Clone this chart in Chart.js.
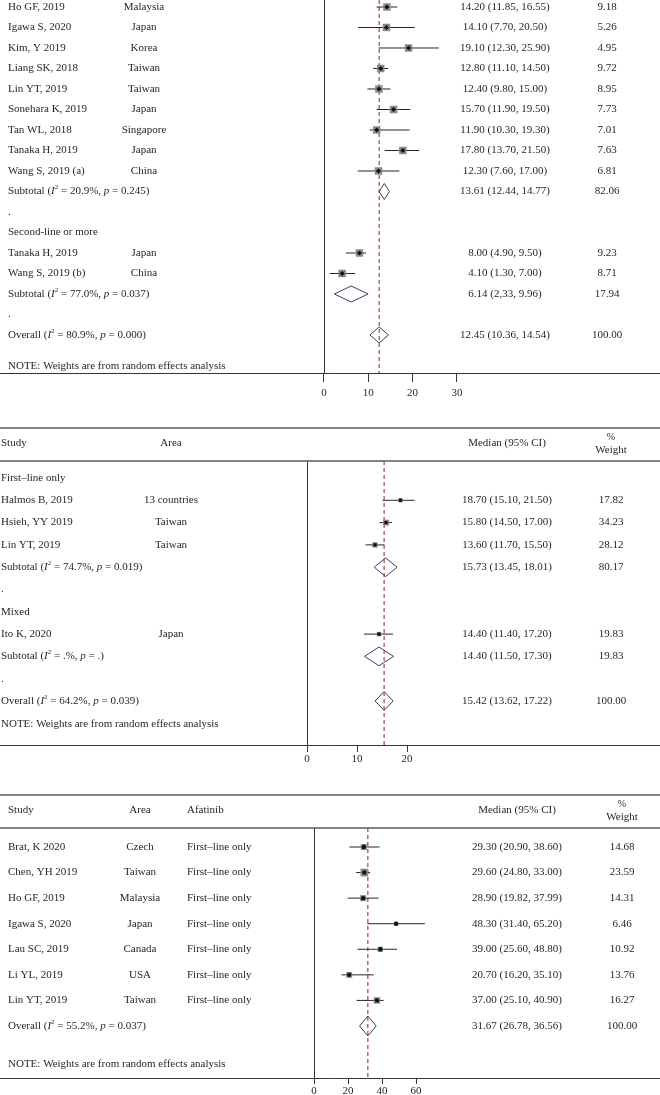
<!DOCTYPE html>
<html><head><meta charset="utf-8">
<script src="https://cdn.jsdelivr.net/npm/chart.js@4.4.1/dist/chart.umd.min.js"></script>
<style>
html,body{margin:0;padding:0;background:#fff;}
body{width:660px;height:1095px;position:relative;overflow:hidden;}
canvas{position:absolute;left:0;}
</style></head><body>
<canvas id="c1" width="660" height="405" style="top:0px"></canvas>
<canvas id="c2" width="660" height="365" style="top:405px"></canvas>
<canvas id="c3" width="660" height="330" style="top:770px"></canvas>
<script>
// ---------- Panel 1 data ----------
const p1Study = ["Ho GF, 2019","Igawa S, 2020","Kim, Y 2019","Liang SK, 2018","Lin YT, 2019","Sonehara K, 2019","Tan WL, 2018","Tanaka H, 2019","Wang S, 2019 (a)","Subtotal (I² = 20.9%, p = 0.245)",".","Second-line or more","Tanaka H, 2019","Wang S, 2019 (b)","Subtotal (I² = 77.0%, p = 0.037)",".","Overall (I² = 80.9%, p = 0.000)"];
const p1Area = ["Malaysia","Japan","Korea","Taiwan","Taiwan","Japan","Singapore","Japan","China","","","","Japan","China","","",""];
const p1Kind = ["s","s","s","s","s","s","s","s","s","d","","","s","s","d","","o"];
const p1Est = [14.20,14.10,19.10,12.80,12.40,15.70,11.90,17.80,12.30,13.61,null,null,8.00,4.10,6.14,null,12.45];
const p1Lo  = [11.85,7.70,12.30,11.10,9.80,11.90,10.30,13.70,7.60,12.44,null,null,4.90,1.30,2.33,null,10.36];
const p1Hi  = [16.55,20.50,25.90,14.50,15.00,19.50,19.30,21.50,17.00,14.77,null,null,9.50,7.00,9.96,null,14.54];
const p1Weight = [9.18,5.26,4.95,9.72,8.95,7.73,7.01,7.63,6.81,82.06,null,null,9.23,8.71,17.94,null,100.00];
const p1CiOverride = {14: "6.14 (2,33, 9.96)"};
const p1Ticks = [0,10,20,30];

// ---------- Panel 2 data ----------
const p2Study = ["First–line only","Halmos B, 2019","Hsieh, YY 2019","Lin YT, 2019","Subtotal (I² = 74.7%, p = 0.019)",".","Mixed","Ito K, 2020","Subtotal (I² = .%, p = .)",".","Overall (I² = 64.2%, p = 0.039)"];
const p2Area = ["","13 countries","Taiwan","Taiwan","","","","Japan","","",""];
const p2Kind = ["","s","s","s","d","","","s","d","","o"];
const p2Est = [null,18.70,15.80,13.60,15.73,null,null,14.40,14.40,null,15.42];
const p2Lo  = [null,15.10,14.50,11.70,13.45,null,null,11.40,11.50,null,13.62];
const p2Hi  = [null,21.50,17.00,15.50,18.01,null,null,17.20,17.30,null,17.22];
const p2Weight = [null,17.82,34.23,28.12,80.17,null,null,19.83,19.83,null,100.00];
const p2Ticks = [0,10,20];

// ---------- Panel 3 data ----------
const p3Study = ["Brat, K 2020","Chen, YH 2019","Ho GF, 2019","Igawa S, 2020","Lau SC, 2019","Li YL, 2019","Lin YT, 2019","Overall (I² = 55.2%, p = 0.037)"];
const p3Area = ["Czech","Taiwan","Malaysia","Japan","Canada","USA","Taiwan",""];
const p3Line = ["First–line only","First–line only","First–line only","First–line only","First–line only","First–line only","First–line only",""];
const p3Kind = ["s","s","s","s","s","s","s","o"];
const p3Est = [29.30,29.60,28.90,48.30,39.00,20.70,37.00,31.67];
const p3Lo  = [20.90,24.80,19.82,31.40,25.60,16.20,25.10,26.78];
const p3Hi  = [38.60,33.00,37.99,65.20,48.80,35.10,40.90,36.56];
const p3Weight = [14.68,23.59,14.31,6.46,10.92,13.76,16.27,100.00];
const p3Ticks = [0,20,40,60];

const noteText = "NOTE: Weights are from random effects analysis";

// ---------- helpers ----------
const TXT = '#231f20';
const FONT = '"Liberation Serif", "Times New Roman", serif';
function drawRich(ctx, text, x, y, align, size) {
  const parts = text.split(/(I²|\bp(?= =))/).filter(s => s !== '');
  const segs = [];
  parts.forEach(p => {
    if (p === 'I²') { segs.push({t:'I', it:true}); segs.push({t:'2', sup:true}); }
    else if (p === 'p') segs.push({t:'p', it:true});
    else segs.push({t:p});
  });
  const fontOf = s => (s.it ? 'italic ' : '') + (s.sup ? Math.round(size*0.62) : size) + 'px ' + FONT;
  let total = 0;
  segs.forEach(s => { ctx.font = fontOf(s); s.w = ctx.measureText(s.t).width; total += s.w; });
  let cx = align === 'center' ? x - total/2 : (align === 'right' ? x - total : x);
  ctx.textAlign = 'left'; ctx.textBaseline = 'middle'; ctx.fillStyle = TXT;
  segs.forEach(s => { ctx.font = fontOf(s); ctx.fillText(s.t, cx, s.sup ? y - size*0.36 : y); cx += s.w; });
}
function fmtCI(e,l,h){ return e.toFixed(2) + ' (' + l.toFixed(2) + ', ' + h.toFixed(2) + ')'; }

function buildPanel(id, D, L) {
  const n = D.study.length;
  const ovIdx = D.kind.indexOf('o');
  const ov = D.est[ovIdx];
  const datasets = [];
  datasets.push({data:[{x:ov,y:L.yMin},{x:ov,y:L.yMax}], showLine:true, pointRadius:0,
    borderColor:'#8b2323', borderDash:[4,3], borderWidth:1, order:10});
  const studies = [];
  for (let i=0;i<n;i++){
    if (D.kind[i]==='s') {
      studies.push({x:D.est[i], y:i, w:D.weight[i]});
      datasets.push({data:[{x:D.lo[i],y:i},{x:D.hi[i],y:i}], showLine:true, pointRadius:0,
        borderColor:'#262626', borderWidth:1, order:5});
    } else if (D.kind[i]==='d' || D.kind[i]==='o') {
      const h = L.diamondH;
      datasets.push({data:[{x:D.lo[i],y:i},{x:D.est[i],y:i-h},{x:D.hi[i],y:i},{x:D.est[i],y:i+h},{x:D.lo[i],y:i}],
        showLine:true, pointRadius:0, borderColor:'#3b3b6d', borderWidth:1, fill:false, order:1});
    }
  }
  datasets.push({data:studies, pointStyle:'rect', pointRadius:c => L.boxR(c.raw ? c.raw.w : 0),
    backgroundColor:'#8a8a8a', borderWidth:0, order:3});
  datasets.push({data:studies, pointStyle:L.dotStyle, pointRadius:L.dotR,
    backgroundColor:'#111', borderWidth:0, order:2});

  const textPlugin = {
    id:'forestText'+id,
    beforeDatasetsDraw(chart){
      const ctx = chart.ctx, a = chart.chartArea, xs = chart.scales.x;
      ctx.save();
      ctx.strokeStyle = '#333'; ctx.lineWidth = 1;
      const x0 = Math.round(xs.getPixelForValue(0)) + 0.5;
      ctx.beginPath(); ctx.moveTo(x0, a.top); ctx.lineTo(x0, a.bottom); ctx.stroke();
      ctx.restore();
    },
    afterDraw(chart){
      const ctx = chart.ctx, a = chart.chartArea, ys = chart.scales.y;
      ctx.save();
      if (L.header) {
        ctx.strokeStyle = '#5a5a5a'; ctx.lineWidth = 1.5;
        [a.top - 33, a.top].forEach(yy => { ctx.beginPath(); ctx.moveTo(0, yy); ctx.lineTo(chart.width, yy); ctx.stroke(); });
        const hy = a.top - 17.5;
        drawRich(ctx, 'Study', L.studyX, hy, 'left', 11);
        drawRich(ctx, 'Area', L.areaX, hy, 'center', 11);
        if (L.extraX != null) drawRich(ctx, 'Afatinib', L.extraX, hy, 'left', 11);
        drawRich(ctx, 'Median (95% CI)', L.ciX, hy, 'center', 11);
        drawRich(ctx, '%', L.wX, a.top - 24, 'center', 10);
        drawRich(ctx, 'Weight', L.wX, a.top - 11, 'center', 11);
      }
      for (let i=0;i<n;i++){
        const y = ys.getPixelForValue(i);
        drawRich(ctx, D.study[i], L.studyX, y, 'left', 11);
        if (D.area[i]) drawRich(ctx, D.area[i], L.areaX, y, 'center', 11);
        if (D.extra && D.extra[i]) drawRich(ctx, D.extra[i], L.extraX, y, 'left', 11);
        if (D.est[i] != null) {
          const t = (D.ciOverride && D.ciOverride[i]) || fmtCI(D.est[i], D.lo[i], D.hi[i]);
          drawRich(ctx, t, L.ciX, y, 'center', 11);
          drawRich(ctx, D.weight[i].toFixed(2), L.wX, y, 'center', 11);
        }
      }
      drawRich(ctx, noteText, L.studyX, ys.getPixelForValue(L.noteRow), 'left', 11);
      ctx.restore();
    }
  };

  return new Chart(document.getElementById(id), {
    type:'scatter',
    data:{datasets},
    options:{
      responsive:false, animation:false, events:[],
      layout:{autoPadding:false, padding:{top:L.padTop, left:0, right:0, bottom:0}},
      plugins:{legend:{display:false}, tooltip:{enabled:false}},
      scales:{
        x:{type:'linear', min:L.xMin, max:L.xMax,
          afterBuildTicks: s => { s.ticks = D.ticks.map(v => ({value:v})); },
          afterFit: s => { s.height = L.axisH; s.paddingLeft = 0; s.paddingRight = 0; },
          grid:{display:true, drawOnChartArea:false, drawTicks:true, tickLength:L.tickLen, color:'#333'},
          border:{display:true, color:'#333', width:1},
          ticks:{padding:L.tickPad, color:TXT, autoSkip:false, maxRotation:0, font:{family:'Liberation Serif', size:11},
            callback: v => String(v)}},
        y:{type:'linear', display:false, reverse:true, min:L.yMin, max:L.yMax}
      }
    },
    plugins:[textPlugin]
  });
}

buildPanel('c1',
  {study:p1Study, area:p1Area, kind:p1Kind, est:p1Est, lo:p1Lo, hi:p1Hi, weight:p1Weight, ciOverride:p1CiOverride, ticks:p1Ticks},
  {padTop:0, axisH:32, xMin:-73.14, xMax:75.85, yMin:-0.341, yMax:17.854, tickLen:9, tickPad:5,
   studyX:8, areaX:144, extraX:null, ciX:505, wX:607, header:false, noteRow:17.5,
   boxR: w => 5.3, dotStyle:'rectRot', dotR:2.6, diamondH:0.39});

buildPanel('c2',
  {study:p2Study, area:p2Area, kind:p2Kind, est:p2Est, lo:p2Lo, hi:p2Hi, weight:p2Weight, ticks:p2Ticks},
  {padTop:56, axisH:25, xMin:-61.4, xMax:70.6, yMin:-0.762, yMax:11.973, tickLen:7, tickPad:1,
   studyX:1, areaX:171, extraX:null, ciX:507, wX:611, header:true, noteRow:11.05,
   boxR: w => Math.sqrt(w) * 1.0 / Math.SQRT2, dotStyle:'rect', dotR:2.3, diamondH:0.42});

buildPanel('c3',
  {study:p3Study, area:p3Area, extra:p3Line, kind:p3Kind, est:p3Est, lo:p3Lo, hi:p3Hi, weight:p3Weight, ticks:p3Ticks},
  {padTop:58, axisH:22, xMin:-184.7, xMax:203.5, yMin:-0.743, yMax:9.034, tickLen:6, tickPad:1,
   studyX:8, areaX:140, extraX:187, ciX:517, wX:622, header:true, noteRow:8.5,
   boxR: w => Math.sqrt(w) * 1.6 / Math.SQRT2, dotStyle:'circle', dotR:2.2, diamondH:0.39});
</script>
</body></html>
